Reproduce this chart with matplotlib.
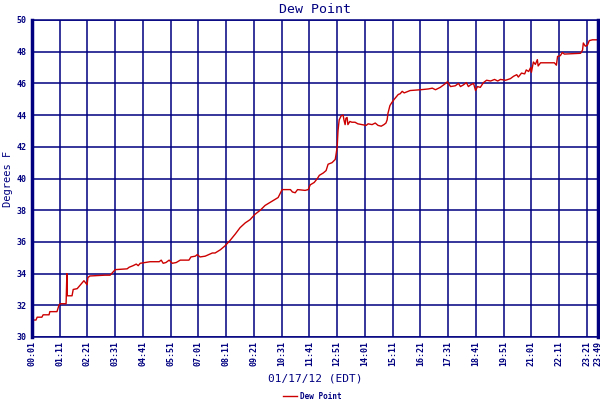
import matplotlib
matplotlib.use("Agg")
import matplotlib.pyplot as plt
import numpy as np

# minutes since midnight, dew point in deg F
minutes = [1, 11, 14, 26, 29, 44, 46, 64, 69, 72, 87, 89, 90, 102, 105, 115, 120, 127,
           132, 137, 140, 142, 147, 185, 198, 200, 211, 241, 246, 256, 264, 269, 274, 299,
           322, 327, 332, 339, 347, 355, 365, 375, 397, 402, 413, 418, 425, 438, 456, 463,
           476, 488, 501, 514, 526, 539, 551, 564, 577, 589, 602, 615, 622, 627, 632, 653,
           658, 665, 671, 690, 698, 703, 713, 721, 726, 736, 743, 748, 758, 766, 768, 771,
           773, 776, 781, 786, 788, 791, 793, 796, 798, 803, 808, 816, 823, 833, 844, 849,
           859, 867, 874, 882, 889, 894, 897, 899, 904, 909, 915, 920, 925, 930, 935, 940,
           945, 955, 981, 1001, 1011, 1019, 1031, 1042, 1049, 1057, 1069, 1077, 1082, 1089,
           1097, 1102, 1107, 1115, 1120, 1125, 1132, 1140, 1148, 1158, 1168, 1176, 1183,
           1196, 1208, 1216, 1224, 1228, 1236, 1244, 1248, 1254, 1259, 1261, 1266, 1271,
           1276, 1278, 1284, 1309, 1319, 1324, 1327, 1334, 1339, 1344, 1385, 1390, 1392,
           1397, 1402, 1407, 1415, 1429]
dew_point = [31.07, 31.07, 31.25, 31.25, 31.4, 31.4, 31.6, 31.6, 32.0, 32.1, 32.1, 34.0,
             32.6, 32.6, 33.0, 33.05, 33.2, 33.4, 33.55, 33.4, 33.3, 33.75, 33.85, 33.9,
             33.9, 33.95, 34.25, 34.3, 34.4, 34.5, 34.6, 34.5, 34.65, 34.75, 34.75, 34.85,
             34.65, 34.7, 34.85, 34.65, 34.7, 34.85, 34.85, 35.05, 35.1, 35.2, 35.05, 35.1,
             35.3, 35.3, 35.5, 35.75, 36.1, 36.5, 36.9, 37.2, 37.4, 37.75, 38.0, 38.3, 38.5,
             38.7, 38.8, 39.05, 39.3, 39.3, 39.15, 39.1, 39.3, 39.25, 39.3, 39.6, 39.75,
             40.0, 40.2, 40.35, 40.5, 40.9, 41.0, 41.2, 41.5, 42.0, 43.0, 43.7, 43.95, 44.0,
             43.7, 43.4, 43.8, 43.85, 43.4, 43.6, 43.55, 43.55, 43.45, 43.4, 43.35, 43.45,
             43.4, 43.5, 43.35, 43.3, 43.4, 43.5, 43.7, 44.1, 44.6, 44.8, 45.0, 45.15, 45.3,
             45.35, 45.5, 45.4, 45.45, 45.55, 45.6, 45.65, 45.7, 45.6, 45.75, 45.95, 46.1,
             45.8, 45.85, 46.0, 45.8, 45.9, 46.05, 45.8, 45.9, 46.0, 45.55, 45.8, 45.75,
             46.05, 46.2, 46.15, 46.25, 46.15, 46.25, 46.2, 46.3, 46.45, 46.55, 46.4, 46.65,
             46.6, 46.85, 46.75, 47.0, 46.7, 47.35, 47.2, 47.5, 47.1, 47.3, 47.3, 47.3,
             47.15, 47.7, 47.75, 47.95, 47.85, 47.9, 48.1, 48.55, 48.35, 48.4, 48.7, 48.75,
             48.75]

tick_minutes = list(range(1, 1430, 70)) + [1429]
tick_labels = ["%02d:%02d" % (m // 60, m % 60) for m in tick_minutes]

navy = "#000080"
red = "#cc0000"
mono = "DejaVu Sans Mono"

fig = plt.figure(figsize=(6, 4), dpi=100)
ax = fig.add_axes([32 / 600, 63 / 400, 566 / 600, 317 / 400])

ax.plot(minutes, dew_point, color=red, lw=1.0, label="Dew Point")

ax.set_xlim(1, 1429)
ax.set_ylim(30, 50)
ax.set_yticks(np.arange(30, 51, 2))
ax.set_xticks(tick_minutes)
ax.set_xticklabels(tick_labels, rotation=90)
ax.grid(True, color=navy, lw=1.1)
ax.set_axisbelow(True)
ax.tick_params(length=0, labelcolor=navy)
ax.tick_params(axis="y", pad=4)
ax.tick_params(axis="x", pad=3)
for lab in ax.get_xticklabels() + ax.get_yticklabels():
    lab.set_fontfamily(mono)
    lab.set_fontweight("bold")
    lab.set_fontsize(6)

for side in ["top", "bottom"]:
    ax.spines[side].set_color(navy)
    ax.spines[side].set_linewidth(1.1)
for side in ["left", "right"]:
    ax.spines[side].set_color(navy)
    ax.spines[side].set_linewidth(2.5)

ax.set_title("Dew Point", color=navy, fontfamily=mono, fontsize=9.5, pad=5)
ax.set_ylabel("Degrees F", color=navy, fontfamily=mono, fontsize=7.5)
ax.yaxis.set_label_coords(-0.033, 0.5)
ax.set_xlabel("01/17/12 (EDT)", color=navy, fontfamily=mono, fontsize=8, labelpad=5)

fig.legend(loc="lower center", bbox_to_anchor=(0.52, -0.02), frameon=False,
           prop={"family": mono, "weight": "bold", "size": 5.5}, labelcolor=navy,
           handlelength=1.8, handletextpad=0.4)

fig.savefig("out.png", dpi=100)
